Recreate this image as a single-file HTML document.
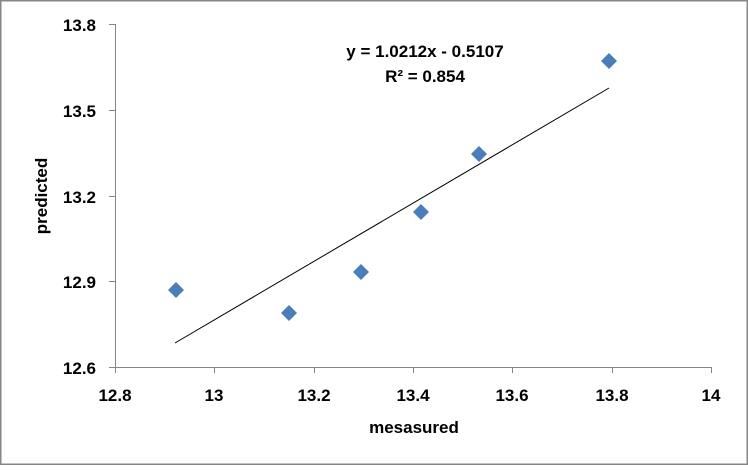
<!DOCTYPE html><html><head><style>body{margin:0}svg text{font-family:"Liberation Sans",sans-serif;font-weight:bold;fill:#000}</style></head><body>
<svg width="748" height="465" xmlns="http://www.w3.org/2000/svg">
<rect x="0.5" y="0.5" width="747" height="464" fill="#fff" stroke="#868686" stroke-width="2"/>
<g stroke="#868686" stroke-width="1">
<line x1="115.5" y1="24" x2="115.5" y2="367"/>
<line x1="115" y1="367.5" x2="712" y2="367.5"/>
<line x1="109" y1="24.5" x2="115" y2="24.5"/>
<line x1="109" y1="110.5" x2="115" y2="110.5"/>
<line x1="109" y1="196.5" x2="115" y2="196.5"/>
<line x1="109" y1="281.5" x2="115" y2="281.5"/>
<line x1="109" y1="367.5" x2="115" y2="367.5"/>
<line x1="115.5" y1="367" x2="115.5" y2="373"/>
<line x1="214.5" y1="367" x2="214.5" y2="373"/>
<line x1="314.5" y1="367" x2="314.5" y2="373"/>
<line x1="413.5" y1="367" x2="413.5" y2="373"/>
<line x1="512.5" y1="367" x2="512.5" y2="373"/>
<line x1="612.5" y1="367" x2="612.5" y2="373"/>
<line x1="711.5" y1="367" x2="711.5" y2="373"/>
</g>
<g font-size="17" text-anchor="end">
<text x="96" y="31">13.8</text><text x="96" y="117">13.5</text><text x="96" y="203">13.2</text><text x="96" y="288">12.9</text><text x="96" y="374">12.6</text>
</g>
<g font-size="17" text-anchor="middle">
<text x="115" y="401">12.8</text><text x="214" y="401">13</text><text x="314" y="401">13.2</text><text x="413" y="401">13.4</text><text x="512" y="401">13.6</text><text x="612" y="401">13.8</text><text x="711" y="401">14</text>
</g>
<text x="414" y="433" font-size="17" text-anchor="middle">mesasured</text>
<text transform="translate(47,196) rotate(-90)" font-size="17" text-anchor="middle">predicted</text>
<line x1="175" y1="343" x2="609" y2="88" stroke="#000" stroke-width="1"/>
<g fill="#4a7ebb">
<path d="M176 282l8 8-8 8-8-8z"/><path d="M289 305l8 8-8 8-8-8z"/><path d="M361 264l8 8-8 8-8-8z"/><path d="M421 204l8 8-8 8-8-8z"/><path d="M479 146l8 8-8 8-8-8z"/><path d="M609 53l8 8-8 8-8-8z"/>
</g>
<text x="425" y="57" font-size="17" text-anchor="middle">y = 1.0212x - 0.5107</text>
<text x="425" y="82" font-size="17" text-anchor="middle">R² = 0.854</text>
</svg></body></html>
